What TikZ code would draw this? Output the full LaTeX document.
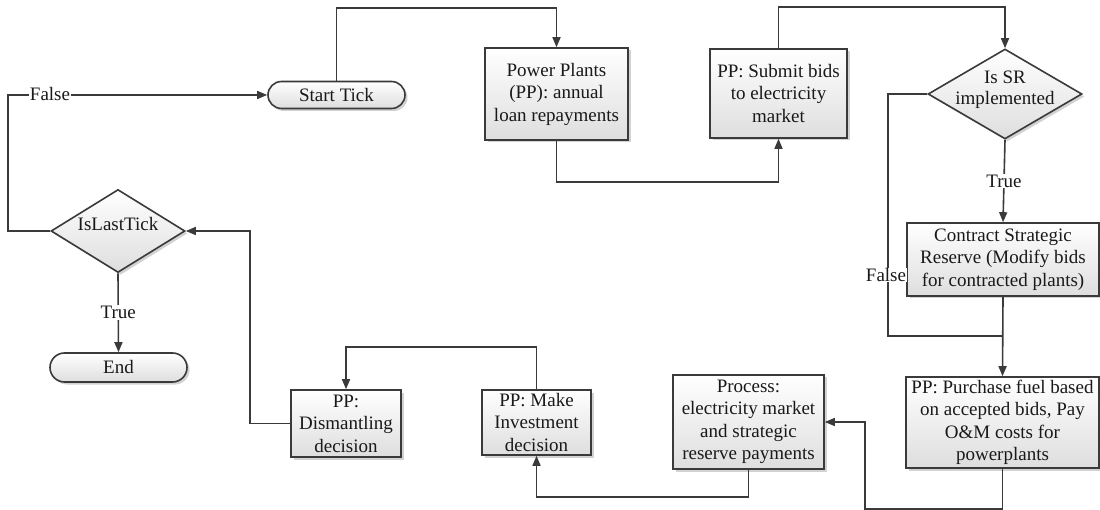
\documentclass[tikz,border=0pt]{standalone}
\usepackage{fontspec}
\setmainfont{Liberation Serif}
\usetikzlibrary{arrows.meta,shapes.geometric,shapes.misc,shadows,calc}
\definecolor{ln}{HTML}{3A3A3A}
\begin{document}
\begin{tikzpicture}[x=1pt,y=-1pt,
  every node/.style={font=\fontsize{19}{22.5}\selectfont, text=black!90},
  base/.style={draw=ln, line width=1.6pt, top color=white, bottom color=black!13,
     drop shadow={shadow xshift=2.5pt, shadow yshift=-2.5pt, fill=black!35, opacity=0.5},
     inner sep=0pt, align=center},
  boxn/.style={base, rectangle},
  term/.style={base, rounded rectangle},
  dec/.style={base, diamond},
  arr/.style={draw=ln, line width=1.6pt, -{Triangle[length=10pt,width=8pt]}},
  conn/.style={draw=ln, line width=1.6pt},
  lbl/.style={fill=white, inner sep=1pt}
]
\useasboundingbox (0,0) rectangle (1100,510);
\fill[white] (0,0) rectangle (1100,510);

% nodes
\node[term, minimum width=137pt, minimum height=27pt] (start) at (336.5,95) {Start Tick};
\node[boxn, minimum width=143pt, minimum height=92pt] (pp1) at (556.5,94) {Power Plants\\(PP): annual\\loan repayments};
\node[boxn, minimum width=137pt, minimum height=89pt] (bids) at (778.5,93.5) {PP: Submit bids\\to electricity\\market};
\node[dec, minimum width=154pt, minimum height=90pt] (sr) at (1005,94)
   {\smash{\makebox[0pt]{\begin{tabular}{@{}c@{}}Is SR\\[-1pt]implemented\end{tabular}}}};
\node[boxn, minimum width=192pt, minimum height=73pt] (contract) at (1003,259.5) {Contract Strategic\\Reserve (Modify bids\\for contracted plants)};
\node[boxn, minimum width=193pt, minimum height=91pt] (purchase) at (1002.5,422.5) {PP: Purchase fuel based\\on accepted bids, Pay\\O\&M costs for\\powerplants};
\node[boxn, minimum width=151pt, minimum height=94pt] (process) at (748.5,422) {Process:\\electricity market\\and strategic\\reserve payments};
\node[boxn, minimum width=109pt, minimum height=65pt] (invest) at (536.5,422.5) {PP: Make\\Investment\\decision};
\node[boxn, minimum width=110pt, minimum height=67pt] (dismantle) at (346,423.5) {PP:\\Dismantling\\decision};
\node[dec, minimum width=134pt, minimum height=83pt] (lt) at (118,231)
   {\smash{\makebox[0pt]{IsLastTick}}};
\node[term, minimum width=137pt, minimum height=29pt] (end) at (118.5,367.5) {End};

% connectors
\draw[arr] (start.north) -- (start.north |- 0,8) -| (pp1.north);
\draw[arr] (pp1.south) -- ++(0,41) -| (bids.south);
\draw[arr] (bids.north) -- (bids.north |- 0,7) -| (sr.north);
\draw[arr] (sr.south) -- node[lbl, pos=0.5] {True} (contract.north);
\coordinate (j) at (contract.south |- 0,336);
\draw[conn] (sr.west) -| (888,336) -- (j);
\node[lbl, inner sep=0.5pt] (f1) at (886,275) {False};
\draw[arr] (contract.south) -- (purchase.north);
\draw[arr] (purchase.south) -- ++(0,40) -| ([xshift=40pt]process.east) -- (process.east);
\draw[arr] (process.south) -- ++(0,27) -| (invest.south);
\draw[arr] (invest.north) -- ++(0,-42) -| (dismantle.north);
\draw[arr] (dismantle.west) -- ++(-40,0) |- (lt.east);
\draw[arr] (lt.west) -- ++(-42,0) |- (start.west);
\node[lbl] (f2) at (50,94) {False};
\draw[arr] (lt.south) -- node[lbl, pos=0.5] {True} (end.north);
\end{tikzpicture}
\end{document}
